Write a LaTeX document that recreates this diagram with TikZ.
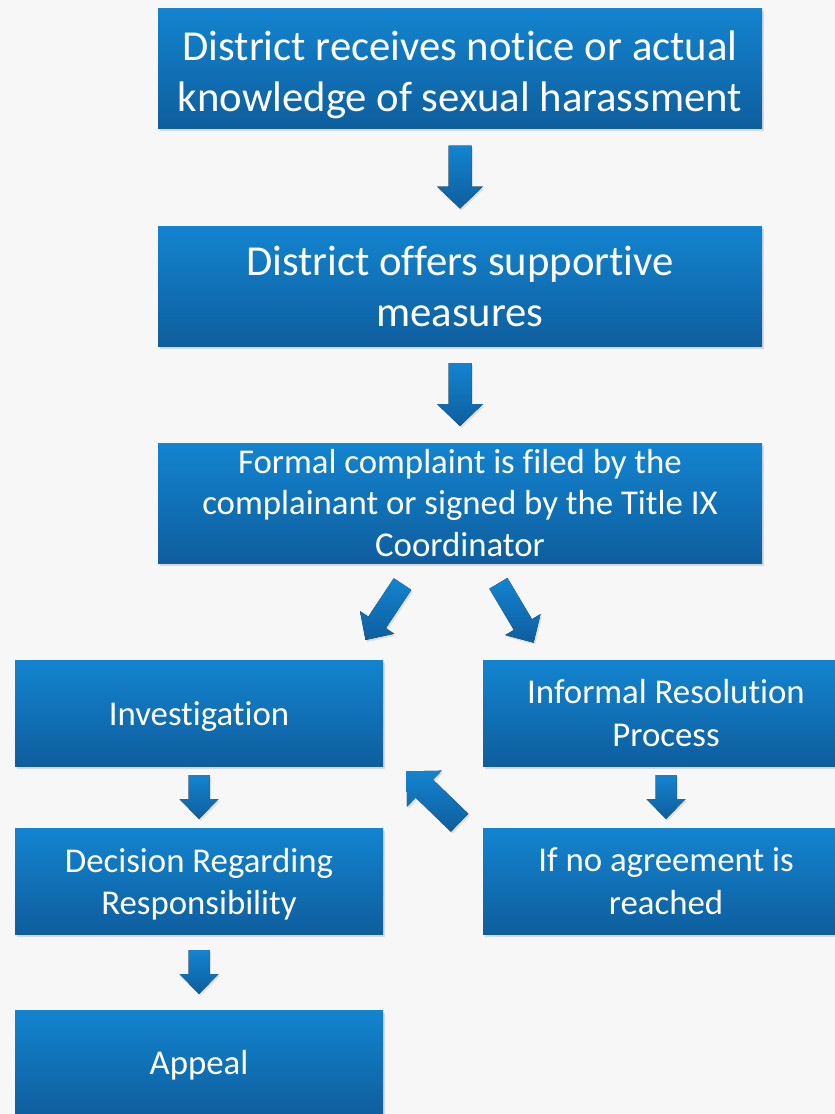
\documentclass[tikz,border=0pt]{standalone}
\usepackage{fontspec}
\setmainfont{Carlito}[Ligatures=NoCommon]
\usetikzlibrary{calc,shadows}
\definecolor{bgcol}{RGB}{247,247,247}
\definecolor{boxtop}{RGB}{19,132,208}
\definecolor{boxbot}{RGB}{14,94,157}
\newcommand{\lift}[1]{\rule{0pt}{#1}}
\tikzset{
  flowbox/.style={rectangle, inner sep=0pt, text=white, align=center,
    top color=boxtop, bottom color=boxbot, draw=none,
    drop shadow={opacity=0.25, shadow xshift=2pt, shadow yshift=-3pt}},
  bigbox/.style={flowbox, minimum width=604pt, minimum height=120pt,
    font=\fontsize{42.7}{51}\selectfont},
  midbox/.style={flowbox, minimum width=604pt, minimum height=120pt,
    font=\fontsize{34.8}{41.5}\selectfont},
  smallbox/.style={flowbox, minimum width=368pt, minimum height=106pt,
    font=\fontsize{34.8}{42.5}\selectfont},
  arrowfill/.style={top color=boxtop, bottom color=boxbot, draw=none,
    drop shadow={opacity=0.2, shadow xshift=1.5pt, shadow yshift=-2pt}}
}
% block arrow: #1 centre, #2 direction angle, #3 length, #4 shaft width, #5 head width, #6 head length
\newcommand{\blockarrow}[6]{%
  \begin{scope}[shift={#1}, rotate=#2]
    \fill[arrowfill] (-#3/2,-#4/2) -- (#3/2-#6,-#4/2) -- (#3/2-#6,-#5/2)
      -- (#3/2,0) -- (#3/2-#6,#5/2) -- (#3/2-#6,#4/2) -- (-#3/2,#4/2) -- cycle;
  \end{scope}}
\begin{document}
\begin{tikzpicture}[x=1pt,y=-1pt]
\fill[bgcol] (0,0) rectangle (835,1114);
\useasboundingbox (0,0) rectangle (835,1114);
\begin{scope}
\clip (0,0) rectangle (835,1114);
\node[bigbox] (n1) at (460,68) {\lift{44pt}District receives notice or actual\\knowledge of sexual harassment};
\node[bigbox] (n2) at (460,286) {District offers supportive\\measures};
\node[midbox] (n3) at (460,503) {Formal complaint is filed by the\\complainant or signed by the Title IX\\Coordinator};
\node[smallbox] (inv) at (199,713) {\lift{31pt}Investigation};
\node[smallbox, minimum width=366pt] (inf) at (666,713) {Informal Resolution\\Process};
\node[smallbox] (dec) at (199,881) {\lift{31pt}Decision Regarding\\Responsibility};
\node[smallbox, minimum width=366pt] (ifno) at (666,881) {If no agreement is\\reached};
\node[smallbox] (app) at (199,1063) {\lift{29pt}Appeal};

\blockarrow{($(n1.south)!0.5!(n2.north)$)}{-90}{63}{23}{46}{22}
\blockarrow{($(n2.south)!0.5!(n3.north)$)}{-90}{63}{23}{46}{22}
\blockarrow{($(inv.south)!0.5!(dec.north)$)}{-90}{44}{21}{39}{20}
\blockarrow{($(dec.south)!0.5!(app.north)$)}{-90}{44}{21}{39}{20}
\blockarrow{($(inf.south)!0.5!(ifno.north)$)}{-90}{44}{21}{39}{20}
\coordinate (dl) at (384,612);
\coordinate (dr) at (516,613);
\coordinate (ul) at (433,797);
\blockarrow{(dl)}{-123.5}{67}{21}{41}{21}
\blockarrow{(dr)}{-59.3}{69}{21}{41}{21}
\blockarrow{(ul)}{136}{74}{25}{50}{25}
\end{scope}
\end{tikzpicture}
\end{document}
